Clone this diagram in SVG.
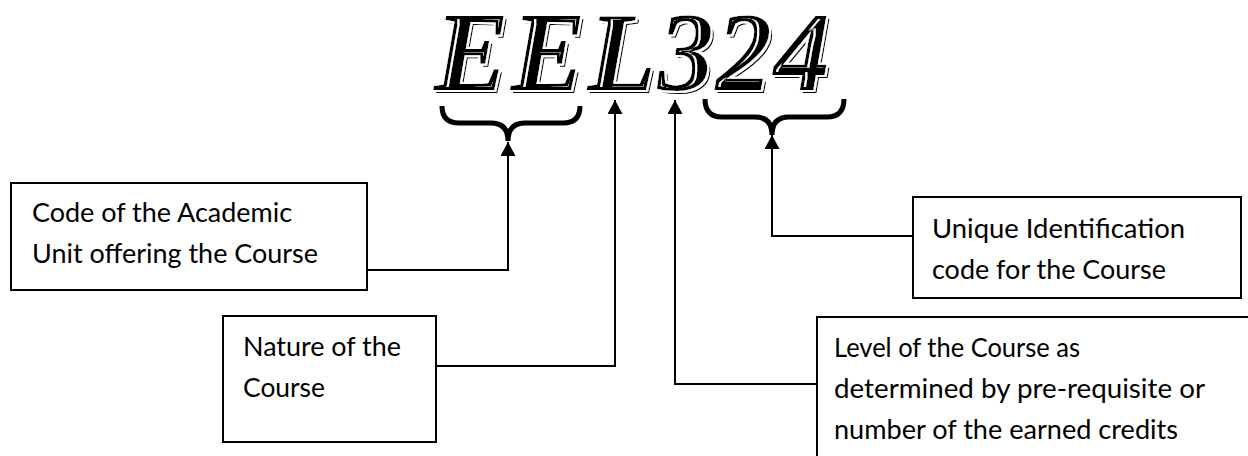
<svg xmlns="http://www.w3.org/2000/svg" width="1248" height="456" viewBox="0 0 1248 456">
<style>
.box{fill:#fff;stroke:#000;stroke-width:2}
.lbl{font-family:Lato,"Liberation Sans",sans-serif;font-size:26.5px;fill:#000}
.conn{fill:none;stroke:#000;stroke-width:2}
.brace{fill:none;stroke:#000;stroke-width:5;stroke-linejoin:miter;stroke-linecap:butt}
.ttl{font-family:"Liberation Serif","DejaVu Serif",serif;font-weight:bold;font-style:italic;font-size:112px;fill:#000;letter-spacing:2px}
</style>
<defs>
<marker id="arr" markerUnits="userSpaceOnUse" markerWidth="15" markerHeight="15" refX="14" refY="7.5" orient="auto">
<path d="M0,0 L14,7.5 L0,15 z" fill="#000"/>
</marker>
<filter id="engrave" filterUnits="userSpaceOnUse" x="400" y="0" width="480" height="110">
<feOffset in="SourceAlpha" dx="3" dy="3" result="sh"/>
<feMorphology in="SourceAlpha" operator="dilate" radius="1.5" result="halo0"/>
<feFlood flood-color="#fff" result="white"/>
<feComposite in="white" in2="halo0" operator="in" result="halo"/>
<feMorphology in="SourceAlpha" operator="erode" radius="2.5" result="e2"/>
<feOffset in="e2" dx="1.5" dy="0" result="e2s"/>
<feComposite in="e2" in2="e2s" operator="out" result="ring0"/>
<feComposite in="white" in2="ring0" operator="in" result="ring"/>
<feMerge>
<feMergeNode in="sh"/>
<feMergeNode in="halo"/>
<feMergeNode in="SourceGraphic"/>
<feMergeNode in="ring"/>
</feMerge>
</filter>
</defs>
<rect width="1248" height="456" fill="#fff"/>
<g id="title">
<text class="ttl" x="434" y="90" filter="url(#engrave)">EEL324</text>
</g>
<g id="braces">
<path class="brace" d="M442,106 Q442,123 459,123 L491,123 Q508,123 508,141 Q508,123 525,123 L563,123 Q580,123 580,106"/>
<path class="brace" d="M705,99 Q705,117 722,117 L755,117 Q772,117 772,135 Q772,117 789,117 L827,117 Q844,117 844,99"/>
</g>
<g id="connectors">
<path class="conn" d="M367,270 H508 V142" marker-end="url(#arr)"/>
<path class="conn" d="M436,366 H615 V100" marker-end="url(#arr)"/>
<path class="conn" d="M913,236 H772 V135" marker-end="url(#arr)"/>
<path class="conn" d="M817,384 H675 V100" marker-end="url(#arr)"/>
</g>
<g id="node-academic-unit">
<rect class="box" x="11" y="183" width="356" height="107"/>
<text class="lbl" x="32" y="222" textLength="260" lengthAdjust="spacingAndGlyphs">Code of the Academic</text>
<text class="lbl" x="32" y="263" textLength="286" lengthAdjust="spacingAndGlyphs">Unit offering the Course</text>
</g>
<g id="node-nature">
<rect class="box" x="223" y="316" width="213" height="126"/>
<text class="lbl" x="243" y="356" textLength="158" lengthAdjust="spacingAndGlyphs">Nature of the</text>
<text class="lbl" x="243" y="397" textLength="82" lengthAdjust="spacingAndGlyphs">Course</text>
</g>
<g id="node-unique-id">
<rect class="box" x="913" y="197" width="328" height="101"/>
<text class="lbl" x="932" y="238" textLength="253" lengthAdjust="spacingAndGlyphs">Unique Identification</text>
<text class="lbl" x="932" y="279" textLength="234" lengthAdjust="spacingAndGlyphs">code for the Course</text>
</g>
<g id="node-level">
<rect class="box" x="817" y="317" width="460" height="200"/>
<text class="lbl" x="834" y="357" textLength="246" lengthAdjust="spacingAndGlyphs">Level of the Course as</text>
<text class="lbl" x="834" y="398" textLength="371" lengthAdjust="spacingAndGlyphs">determined by pre-requisite or</text>
<text class="lbl" x="834" y="439" textLength="344" lengthAdjust="spacingAndGlyphs">number of the earned credits</text>
</g>
</svg>
